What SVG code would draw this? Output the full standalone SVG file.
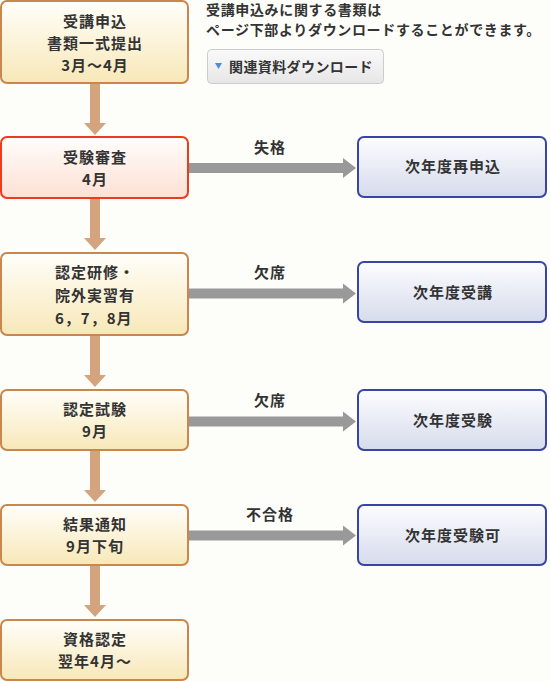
<svg xmlns="http://www.w3.org/2000/svg" width="550" height="681" viewBox="0 0 550 681">
<defs>
<linearGradient id="gY" x1="0" y1="0" x2="0" y2="1"><stop offset="0" stop-color="#fffefa"/><stop offset="1" stop-color="#f8e8b8"/></linearGradient>
<linearGradient id="gR" x1="0" y1="0" x2="0" y2="1"><stop offset="0" stop-color="#fffdfb"/><stop offset="1" stop-color="#fde0d4"/></linearGradient>
<linearGradient id="gB" x1="0" y1="0" x2="0" y2="1"><stop offset="0" stop-color="#fdfdff"/><stop offset="1" stop-color="#d6dbec"/></linearGradient>
<linearGradient id="gBtn" x1="0" y1="0" x2="0" y2="1"><stop offset="0" stop-color="#fafafa"/><stop offset="1" stop-color="#e6e6e6"/></linearGradient>
</defs>
<style>
text{font-family:"Noto Sans CJK JP","Noto Sans CJK SC",sans-serif;fill:#333;}
.bx{font-size:15px;font-weight:bold;letter-spacing:1px;text-anchor:middle;}
.lb{font-size:15px;font-weight:bold;letter-spacing:1px;text-anchor:middle;}
.nt{font-size:14px;font-weight:bold;letter-spacing:0.65px;}
.y{fill:url(#gY);stroke:#c9874e;stroke-width:2;}
.r{fill:url(#gR);stroke:#f03a1f;stroke-width:2;}
.b{fill:url(#gB);stroke:#3a45a3;stroke-width:2;}
.va{fill:#d4a47e;}
.ha{fill:#999999;}
</style>
<rect width="550" height="681" fill="#fdfdf9"/>
<g id="connectors">
<path class="va" d="M90 84H100V123H106L95 135L84 123H90Z"/>
<path class="va" d="M90 199H100V238H106L95 250L84 238H90Z"/>
<path class="va" d="M90 336H100V375H106L95 387L84 375H90Z"/>
<path class="va" d="M90 451H100V490H106L95 502L84 490H90Z"/>
<path class="va" d="M90 566H100V605H106L95 617L84 605H90Z"/>
<path class="ha" d="M189 163H343V158L356 168L343 178V173H189Z"/>
<text class="lb" x="270" y="153">失格</text>
<path class="ha" d="M189 288.5H343V283.5L356 293.5L343 303.5V298.5H189Z"/>
<text class="lb" x="270" y="278">欠席</text>
<path class="ha" d="M189 416.5H343V411.5L356 421.5L343 431.5V426.5H189Z"/>
<text class="lb" x="270" y="406">欠席</text>
<path class="ha" d="M189 530.5H343V525.5L356 535.5L343 545.5V540.5H189Z"/>
<text class="lb" x="270" y="520">不合格</text>
</g>
<g id="n1"><rect class="y" x="1" y="1" width="187" height="82" rx="6"/>
<text class="bx" x="95" y="27">受講申込</text><text class="bx" x="95" y="49">書類一式提出</text><text class="bx" x="95" y="71">3月～4月</text></g>
<g id="n2"><rect class="r" x="1" y="137" width="187" height="61" rx="6"/>
<text class="bx" x="95" y="163">受験審査</text><text class="bx" x="95" y="185">4月</text></g>
<g id="n3"><rect class="y" x="1" y="253" width="187" height="82" rx="6"/>
<text class="bx" x="55" y="278" style="text-anchor:start">認定研修・</text><text class="bx" x="55" y="301" style="text-anchor:start">院外実習有</text><text class="bx" x="55" y="324" style="text-anchor:start">6，7，8月</text></g>
<g id="n4"><rect class="y" x="1" y="390" width="187" height="60" rx="6"/>
<text class="bx" x="95" y="415">認定試験</text><text class="bx" x="95" y="437">9月</text></g>
<g id="n5"><rect class="y" x="1" y="505" width="187" height="60" rx="6"/>
<text class="bx" x="95" y="530">結果通知</text><text class="bx" x="95" y="552">9月下旬</text></g>
<g id="n6"><rect class="y" x="1" y="620" width="187" height="60" rx="6"/>
<text class="bx" x="95" y="645">資格認定</text><text class="bx" x="95" y="667">翌年4月～</text></g>
<g id="r1"><rect class="b" x="358" y="137" width="188" height="60" rx="6"/><text class="bx" x="453" y="172">次年度再申込</text></g>
<g id="r2"><rect class="b" x="358" y="262" width="188" height="60" rx="6"/><text class="bx" x="453" y="298">次年度受講</text></g>
<g id="r3"><rect class="b" x="358" y="390" width="188" height="60" rx="6"/><text class="bx" x="453" y="426">次年度受験</text></g>
<g id="r4"><rect class="b" x="358" y="505" width="188" height="60" rx="6"/><text class="bx" x="453" y="541">次年度受験可</text></g>
<g id="note">
<text class="nt" x="206" y="15">受講申込みに関する書類は</text>
<text class="nt" x="206" y="35">ページ下部よりダウンロードすることができます。</text>
</g>
<g id="button">
<rect x="207.5" y="49.5" width="176" height="34" rx="4" fill="url(#gBtn)" stroke="#cccccc"/>
<path d="M215 63H222L218.5 69Z" fill="#4a8ee0"/>
<text x="229" y="72" style="font-size:14px;font-weight:bold;letter-spacing:0.4px">関連資料ダウンロード</text>
</g>
</svg>
